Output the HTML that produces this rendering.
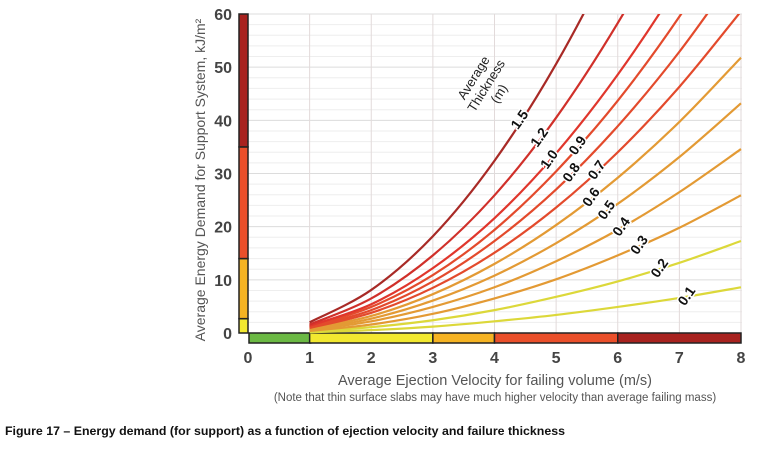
<!DOCTYPE html>
<html><head><meta charset="utf-8"><style>
body{margin:0;background:#fff;width:761px;height:456px;overflow:hidden;font-family:"Liberation Sans",sans-serif}
</style></head><body>
<svg id="chart" width="761" height="456" xmlns="http://www.w3.org/2000/svg">
<defs><clipPath id="clip"><rect x="248" y="14" width="494" height="320"/></clipPath></defs>
<g id="grid"></g>
<g id="bars"></g>
<g id="curves" clip-path="url(#clip)"></g>
<g id="labels"></g>
<g id="ticks" font-family="Liberation Sans, sans-serif" font-weight="bold" font-size="16" fill="#444"></g>
<text transform="translate(205,180) rotate(-90)" text-anchor="middle" font-size="14" fill="#555">Average Energy Demand for Support System, kJ/m²</text>
<text x="495" y="385" text-anchor="middle" font-size="14.5" fill="#555">Average Ejection Velocity for failing volume (m/s)</text>
<text x="495" y="401" text-anchor="middle" font-size="11.5" fill="#555">(Note that thin surface slabs may have much higher velocity than average failing mass)</text>
<text x="5" y="435" font-size="11.5" font-weight="bold" fill="#111" textLength="560" lengthAdjust="spacingAndGlyphs">Figure 17 – Energy demand (for support) as a function of ejection velocity and failure thickness</text>
<text transform="translate(490,88) rotate(-58)" text-anchor="middle" font-size="13" fill="#222"><tspan x="0" y="-15">Average</tspan><tspan x="0" y="0">Thickness</tspan><tspan x="0" y="15">(m)</tspan></text>
</svg>
<script>
const velocities=[1,2,3,4,5,6,7,8];
const thicknessLabels=["0.1","0.2","0.3","0.4","0.5","0.6","0.7","0.8","0.9","1.0","1.2","1.5"];
const s01=[0.14,0.54,1.2,2.2,3.4,4.9,6.6,8.6];
const s02=[0.27,1.1,2.4,4.3,6.8,9.7,13.2,17.3];
const s03=[0.4,1.6,3.6,6.5,10.1,14.6,19.8,25.9];
const s04=[0.54,2.2,4.9,8.6,13.5,19.4,26.5,34.6];
const s05=[0.68,2.7,6.1,10.8,16.9,24.3,33.1,43.2];
const s06=[0.81,3.2,7.3,13,20.3,29.2,39.7,51.8];
const s07=[0.95,3.8,8.5,15.1,23.6,34,46.3,60.5];
const s08=[1.08,4.3,9.7,17.3,27,38.9,52.9,69];
const s09=[1.2,4.9,10.9,19.4,30.4,43.7,59.5,77.8];
const s10=[1.35,5.4,12.2,21.6,33.8,48.6,66,86];
const s12=[1.6,6.5,14.6,25.9,40.5,58.3,79,104];
const s15=[2,8.1,18.2,32.4,50.6,72.9,99,130];
const series=[s01,s02,s03,s04,s05,s06,s07,s08,s09,s10,s12,s15];
const xTicks=[0,1,2,3,4,5,6,7,8];
const yTicks=[0,10,20,30,40,50,60];
const ySegStarts=[0,2.7,14,35];
const ySegEnds=[2.7,14,35,60];
const xSegStarts=[0,1,3,4,6];
const xSegEnds=[1,3,4,6,8];
const segColorsY=["#f2e830","#f5b323","#ea4f2a","#a8221f"];
const segColorsX=["#6bb944","#f2e830","#f5b323","#ea4f2a","#a8221f"];
const colors=["#dcd83a","#dcd83a","#e39a34","#e39a34","#e39a34","#e39a34","#e34a2c","#e34a2c","#e34a2c","#e0362c","#d0302a","#a82a26"];
const labelV=[7.13,6.69,6.36,6.07,5.83,5.58,5.67,5.26,5.36,4.9,4.74,4.42];

const X0=248,X1=741,Y0=333,Y1=14;
const xs=v=>X0+(X1-X0)*v/8;
const ys=e=>Y0-(Y0-Y1)*e/60;
const NS="http://www.w3.org/2000/svg";
function mk(tag,attrs,parent){const e=document.createElementNS(NS,tag);for(const k in attrs)e.setAttribute(k,attrs[k]);parent.appendChild(e);return e;}
const grid=document.getElementById('grid'),bars=document.getElementById('bars'),curves=document.getElementById('curves'),labels=document.getElementById('labels'),ticks=document.getElementById('ticks');
for(let e=2;e<=60;e+=2){const l=mk('line',{x1:X0,x2:X1+1,y1:ys(e),y2:ys(e),stroke:e%10==0?'#dcdcdc':'#eeeeee','stroke-width':1},grid);

}
xTicks.forEach(v=>{if(v===0)return;const l=mk('line',{x1:xs(v),x2:xs(v),y1:Y1,y2:Y0,stroke:'#e2dada','stroke-width':1},grid);

});
ySegStarts.forEach((s,i)=>{const r=mk('rect',{x:239,y:ys(ySegEnds[i]),width:9,height:ys(s)-ys(ySegEnds[i]),fill:segColorsY[i],stroke:'#222','stroke-width':1.5},bars);

});
xSegStarts.forEach((s,i)=>{const r=mk('rect',{x:xs(s)+(i==0?1:0),y:333,width:xs(xSegEnds[i])-xs(s),height:10,fill:segColorsX[i],stroke:'#222','stroke-width':1.5},bars);

});
function spline(vals){const pts=velocities.map((v,i)=>[xs(v),ys(vals[i])]);let d='M'+pts[0][0]+','+pts[0][1];
for(let i=0;i<pts.length-1;i++){const p0=pts[Math.max(0,i-1)],p1=pts[i],p2=pts[i+1],p3=pts[Math.min(pts.length-1,i+2)];
d+=` C${p1[0]+(p2[0]-p0[0])/6},${p1[1]+(p2[1]-p0[1])/6} ${p2[0]-(p3[0]-p1[0])/6},${p2[1]-(p3[1]-p1[1])/6} ${p2[0]},${p2[1]}`;}return d;}
function interp(vals,v){const i=Math.min(6,Math.max(0,Math.floor(v)-1));const t=v-velocities[i];const a=vals[i],b=vals[i+1];return a+(b-a)*t;}
series.forEach((vals,i)=>{const p=mk('path',{d:spline(vals),fill:'none',stroke:colors[i],'stroke-width':2.2},curves);


const v=labelV[i],e=interp(vals,v),x=xs(v),y=ys(e);
const t=mk('text',{transform:`translate(${x},${y}) rotate(-55)`,'text-anchor':'middle','dominant-baseline':'middle','font-size':14,'font-weight':'bold',fill:'#111',stroke:'#fff','stroke-width':3,'paint-order':'stroke'},labels);
t.textContent=thicknessLabels[i];

});
yTicks.forEach(e=>{const t=mk('text',{x:232,y:ys(e)+6,'text-anchor':'end'},ticks);t.textContent=e;

});
xTicks.forEach(v=>{const t=mk('text',{x:xs(v),y:363,'text-anchor':'middle'},ticks);t.textContent=v;

});
</script>
</body></html>
